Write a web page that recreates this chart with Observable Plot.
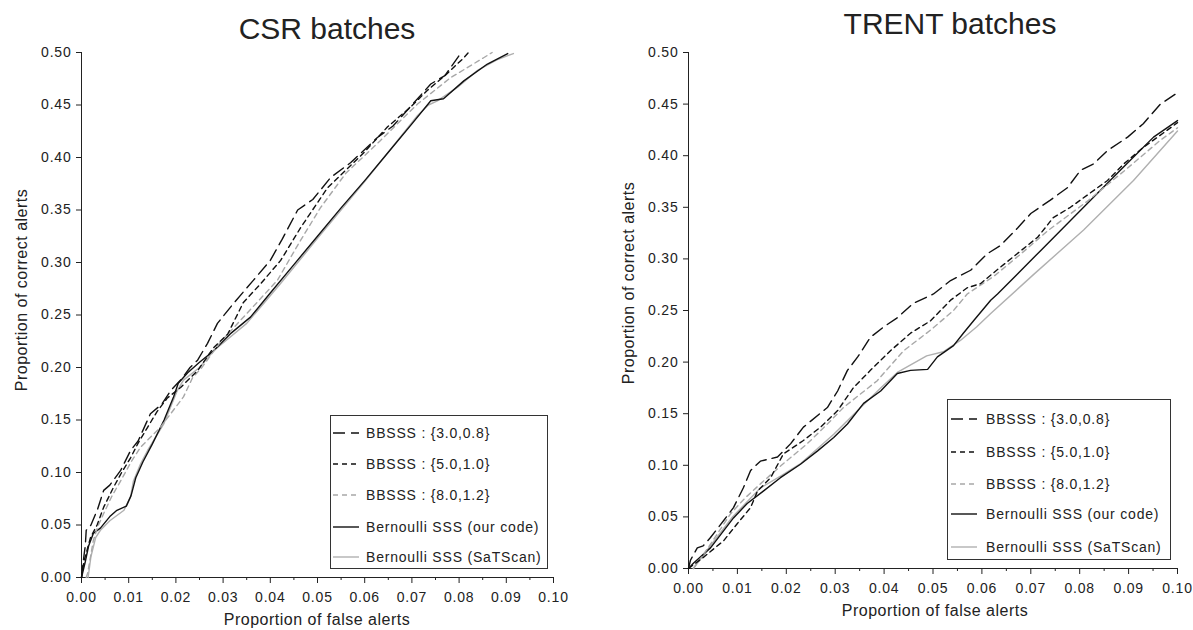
<!DOCTYPE html>
<html><head><meta charset="utf-8">
<script src="https://cdn.jsdelivr.net/npm/d3@7"></script>
<script src="https://cdn.jsdelivr.net/npm/@observablehq/plot@0.6"></script>
<style>
body{margin:0;background:#fff;font-family:"Liberation Sans",Arial,sans-serif;color:#222}
#root{position:relative;width:1193px;height:630px;overflow:hidden;background:#fff}
.panel{position:absolute;top:0}
.title{position:absolute;font-size:30px;white-space:nowrap;transform:translateX(-50%);line-height:1}
.xlab{position:absolute;font-size:16px;letter-spacing:0.5px;white-space:nowrap;transform:translateX(-50%);line-height:1}
.ylab{position:absolute;font-size:16px;letter-spacing:0.5px;white-space:nowrap;transform:translate(-50%,-50%) rotate(-90deg);line-height:1}
.legend{position:absolute;border:1px solid #333;background:#fff;box-sizing:border-box}
.legend .row{position:absolute;left:0;height:20px;display:flex;align-items:center;font-size:14px;letter-spacing:0.8px;white-space:nowrap}
</style></head>
<body><div id="root"></div>
<script>
// ---- tick values ----
const yTicks = [0, 0.05, 0.10, 0.15, 0.20, 0.25, 0.30, 0.35, 0.40, 0.45, 0.50];
const xTicks = [0, 0.01, 0.02, 0.03, 0.04, 0.05, 0.06, 0.07, 0.08, 0.09, 0.10];
const xMinorTicks = [0.005, 0.015, 0.025, 0.035, 0.045, 0.055, 0.065, 0.075, 0.085, 0.095];

// ---- legend / series names ----
const seriesNames = ["BBSSS : {3.0,0.8}", "BBSSS : {5.0,1.0}", "BBSSS : {8.0,1.2}", "Bernoulli SSS (our code)", "Bernoulli SSS (SaTScan)"];
const panelTitles = ["CSR batches", "TRENT batches"];
const xLabel = "Proportion of false alerts";
const yLabel = "Proportion of correct alerts";

// ---- CSR batches: [proportion of false alerts, proportion of correct alerts] ----
const csrBBSSS_3_08 = [[0,0],[0.0005,0.02],[0.0008,0.03],[0.001,0.045],[0.002,0.05],[0.0034,0.065],[0.0047,0.083],[0.006,0.088],[0.0083,0.102],[0.0104,0.121],[0.012,0.13],[0.0146,0.156],[0.017,0.165],[0.0189,0.178],[0.021,0.188],[0.023,0.2],[0.0246,0.207],[0.0267,0.223],[0.0288,0.242],[0.0322,0.261],[0.0364,0.283],[0.04,0.302],[0.0425,0.322],[0.0458,0.35],[0.049,0.36],[0.0528,0.381],[0.057,0.395],[0.0627,0.419],[0.066,0.43],[0.069,0.445],[0.074,0.47],[0.077,0.478],[0.0803,0.499]];
const csrBBSSS_5_10 = [[0,0],[0.0005,0.015],[0.0019,0.038],[0.0033,0.05],[0.0047,0.067],[0.0068,0.086],[0.0085,0.1],[0.0104,0.114],[0.012,0.128],[0.014,0.143],[0.016,0.158],[0.0182,0.171],[0.021,0.181],[0.0246,0.197],[0.028,0.219],[0.031,0.232],[0.0343,0.262],[0.038,0.28],[0.0422,0.302],[0.0464,0.333],[0.0521,0.371],[0.056,0.388],[0.0597,0.404],[0.0648,0.429],[0.0697,0.448],[0.0733,0.464],[0.0775,0.48],[0.081,0.495],[0.082,0.5]];
const csrBBSSS_8_12 = [[0.001,0],[0.0013,0.004],[0.0025,0.035],[0.0034,0.048],[0.0047,0.061],[0.0065,0.078],[0.0083,0.092],[0.0105,0.11],[0.0125,0.124],[0.0167,0.143],[0.0189,0.156],[0.0216,0.172],[0.0235,0.19],[0.0255,0.2],[0.0294,0.224],[0.0337,0.245],[0.0415,0.283],[0.046,0.318],[0.0506,0.352],[0.056,0.385],[0.0633,0.416],[0.0712,0.451],[0.0782,0.476],[0.0852,0.495],[0.087,0.5]];
const csrBernoulliOurs = [[0,0],[0.0008,0.015],[0.0015,0.03],[0.0025,0.042],[0.004,0.047],[0.006,0.058],[0.0075,0.064],[0.0095,0.068],[0.0105,0.078],[0.0115,0.095],[0.013,0.11],[0.015,0.127],[0.0175,0.15],[0.0195,0.172],[0.0205,0.185],[0.0225,0.195],[0.025,0.205],[0.028,0.216],[0.0315,0.232],[0.0358,0.248],[0.04,0.271],[0.045,0.298],[0.05,0.325],[0.055,0.352],[0.06,0.378],[0.065,0.405],[0.07,0.432],[0.074,0.454],[0.0767,0.456],[0.081,0.473],[0.086,0.489],[0.0903,0.499]];
const csrBernoulliSaTScan = [[0.0014,0],[0.002,0.02],[0.003,0.038],[0.004,0.045],[0.006,0.054],[0.009,0.064],[0.0104,0.077],[0.011,0.092],[0.0125,0.108],[0.014,0.121],[0.0174,0.146],[0.0203,0.178],[0.0216,0.188],[0.025,0.2],[0.028,0.216],[0.035,0.242],[0.042,0.279],[0.05,0.323],[0.06,0.377],[0.0712,0.44],[0.0735,0.45],[0.0754,0.454],[0.0797,0.467],[0.0839,0.483],[0.088,0.493],[0.0915,0.499]];

// ---- TRENT batches ----
const trentBBSSS_3_08 = [[0,0],[0.0004,0.008],[0.0018,0.02],[0.003,0.022],[0.0045,0.03],[0.0072,0.0465],[0.0092,0.059],[0.0112,0.078],[0.0127,0.095],[0.0147,0.104],[0.0182,0.108],[0.0209,0.121],[0.0235,0.137],[0.0284,0.156],[0.0305,0.172],[0.0325,0.192],[0.0346,0.205],[0.0372,0.224],[0.0399,0.234],[0.0427,0.243],[0.046,0.257],[0.0501,0.266],[0.0536,0.279],[0.0577,0.289],[0.0611,0.305],[0.0638,0.313],[0.0673,0.33],[0.07,0.344],[0.074,0.357],[0.0775,0.369],[0.0802,0.386],[0.0828,0.392],[0.0857,0.405],[0.0898,0.418],[0.093,0.431],[0.0965,0.45],[0.1,0.461]];
const trentBBSSS_5_10 = [[0,0],[0.0031,0.011],[0.0072,0.027],[0.01,0.0436],[0.0127,0.059],[0.0141,0.075],[0.0168,0.088],[0.0194,0.111],[0.0235,0.124],[0.027,0.137],[0.0305,0.153],[0.0337,0.175],[0.0372,0.192],[0.0413,0.211],[0.0454,0.228],[0.0495,0.24],[0.0536,0.26],[0.057,0.272],[0.0597,0.276],[0.0638,0.292],[0.0714,0.321],[0.0746,0.34],[0.0781,0.35],[0.0816,0.362],[0.0857,0.376],[0.089,0.392],[0.093,0.408],[0.0971,0.422],[0.1,0.432]];
const trentBBSSS_8_12 = [[0.001,0],[0.004,0.02],[0.0086,0.053],[0.0115,0.068],[0.0147,0.082],[0.019,0.1],[0.0243,0.121],[0.028,0.138],[0.0317,0.156],[0.0386,0.182],[0.044,0.211],[0.0495,0.231],[0.0542,0.25],[0.057,0.266],[0.0624,0.283],[0.068,0.305],[0.0734,0.327],[0.0816,0.356],[0.0898,0.388],[0.0965,0.415],[0.1,0.427]];
const trentBernoulliOurs = [[0,0],[0.001,0.005],[0.0045,0.02],[0.0092,0.049],[0.012,0.063],[0.0153,0.075],[0.0188,0.088],[0.0229,0.101],[0.0264,0.114],[0.0297,0.127],[0.0325,0.14],[0.0358,0.16],[0.0393,0.172],[0.0427,0.189],[0.0454,0.192],[0.0489,0.193],[0.0509,0.205],[0.0542,0.216],[0.0562,0.228],[0.0583,0.24],[0.0618,0.26],[0.0632,0.266],[0.072,0.308],[0.0808,0.35],[0.0883,0.386],[0.0951,0.418],[0.1,0.434]];
const trentBernoulliSaTScan = [[0.001,0],[0.0045,0.022],[0.009,0.05],[0.0147,0.078],[0.019,0.09],[0.023,0.102],[0.0297,0.13],[0.035,0.155],[0.0393,0.175],[0.0427,0.19],[0.0487,0.206],[0.0521,0.21],[0.0556,0.221],[0.0589,0.234],[0.0618,0.247],[0.0706,0.285],[0.0808,0.328],[0.091,0.376],[0.1,0.424]];

// ---- styles per series ----
const seriesStyles = [
  {stroke: "#111", dash: "12,6"},
  {stroke: "#111", dash: "5,4"},
  {stroke: "#a8a8a8", dash: "5,4"},
  {stroke: "#111", dash: null},
  {stroke: "#b0b0b0", dash: null}
];

function makePanel(seriesList, dims) {
  const order = [4, 3, 2, 1, 0];
  const lineMarks = order.map(i => Plot.line(seriesList[i], {
    x: d => d[0], y: d => d[1],
    stroke: seriesStyles[i].stroke,
    strokeWidth: 1.4,
    strokeDasharray: seriesStyles[i].dash || undefined
  }));
  return Plot.plot({
    width: dims.width, height: dims.height,
    marginLeft: dims.ml, marginRight: dims.mr, marginTop: dims.mt, marginBottom: dims.mb,
    x: {domain: [0, 0.1]},
    y: {domain: [0, 0.5]},
    style: {fontFamily: "Liberation Sans, Arial, sans-serif", fontSize: "14px", letterSpacing: "0.8px", color: "#222", background: "transparent"},
    marks: [
      Plot.axisY(yTicks, {tickSize: 5, tickPadding: 5, tickFormat: d3.format(".2f"), label: null}),
      Plot.axisX(xTicks, {tickSize: 6, tickPadding: 9, tickFormat: d3.format(".2f"), label: null}),
      Plot.axisX(xMinorTicks, {tickSize: 3, tickFormat: () => "", label: null}),
      Plot.ruleX([0], {stroke: "#222"}),
      Plot.ruleY([0], {stroke: "#222"}),
      ...lineMarks
    ]
  });
}

const root = document.getElementById("root");

function addPanel(left, width, chart) {
  const d = document.createElement("div");
  d.className = "panel";
  d.style.left = left + "px";
  d.style.width = width + "px";
  d.appendChild(chart);
  root.appendChild(d);
}

addPanel(0, 596, makePanel(
  [csrBBSSS_3_08, csrBBSSS_5_10, csrBBSSS_8_12, csrBernoulliOurs, csrBernoulliSaTScan],
  {width: 596, height: 630, ml: 81, mr: 43, mt: 52, mb: 53}));
addPanel(596, 597, makePanel(
  [trentBBSSS_3_08, trentBBSSS_5_10, trentBBSSS_8_12, trentBernoulliOurs, trentBernoulliSaTScan],
  {width: 597, height: 630, ml: 92, mr: 16, mt: 52, mb: 62}));

function addText(cls, text, left, top) {
  const d = document.createElement("div");
  d.className = cls;
  d.textContent = text;
  d.style.left = left + "px";
  d.style.top = top + "px";
  root.appendChild(d);
}
addText("title", panelTitles[0], 327, 14);
addText("title", panelTitles[1], 950, 9);
addText("xlab", xLabel, 317, 612);
addText("xlab", xLabel, 935, 603);
addText("ylab", yLabel, 22, 290);
addText("ylab", yLabel, 629, 283);

function addLegend(box) {
  const lg = document.createElement("div");
  lg.className = "legend";
  lg.style.left = box.x + "px"; lg.style.top = box.y + "px";
  lg.style.width = box.w + "px"; lg.style.height = box.h + "px";
  seriesNames.forEach((name, i) => {
    const row = document.createElement("div");
    row.className = "row";
    row.style.top = (box.rows[i] - 10) + "px";
    row.style.left = box.lineX + "px";
    const ns = "http://www.w3.org/2000/svg";
    const s = document.createElementNS(ns, "svg");
    s.setAttribute("width", box.lineW); s.setAttribute("height", 4);
    s.style.marginRight = (box.textX - box.lineX - box.lineW) + "px";
    const ln = document.createElementNS(ns, "line");
    ln.setAttribute("x1", 0); ln.setAttribute("x2", box.lineW);
    ln.setAttribute("y1", 2); ln.setAttribute("y2", 2);
    ln.setAttribute("stroke", seriesStyles[i].stroke);
    ln.setAttribute("stroke-width", 1.4);
    if (seriesStyles[i].dash) ln.setAttribute("stroke-dasharray", seriesStyles[i].dash);
    s.appendChild(ln);
    row.appendChild(s);
    const t = document.createElement("span");
    t.textContent = name;
    row.appendChild(t);
    lg.appendChild(row);
  });
  root.appendChild(lg);
}
addLegend({x: 330, y: 415, w: 218, h: 154, rows: [17, 48, 79, 111, 141], lineX: 2, lineW: 26, textX: 35});
addLegend({x: 947, y: 399, w: 224, h: 161, rows: [19, 52, 84, 114, 147], lineX: 3, lineW: 26, textX: 38});
</script>
</body></html>
